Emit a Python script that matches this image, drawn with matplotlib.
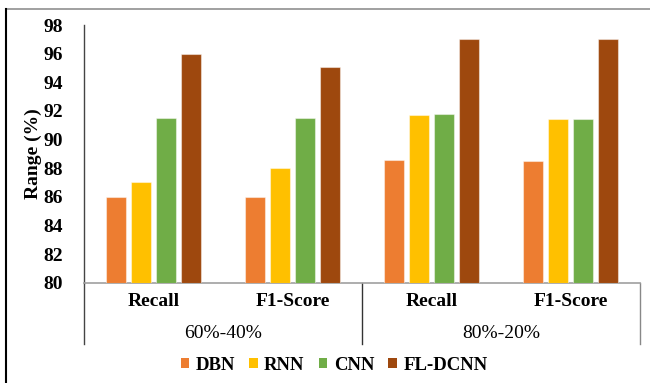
import matplotlib.pyplot as plt
import matplotlib.transforms as mtransforms
from matplotlib.patches import Patch
from matplotlib.lines import Line2D
import numpy as np

categories = ["Recall", "F1-Score", "Recall", "F1-Score"]
groups = ["60%-40%", "80%-20%"]
models = ["DBN", "RNN", "CNN", "FL-DCNN"]
dbn = [86.0, 86.0, 88.6, 88.5]
rnn = [87.0, 88.0, 91.7, 91.4]
cnn = [91.5, 91.5, 91.8, 91.4]
fl_dcnn = [96.0, 95.1, 97.0, 97.0]
colors = ["#ED7D31", "#FFC000", "#70AD47", "#9E480E"]

plt.rcParams["font.family"] = ["Liberation Serif", "DejaVu Serif"]

W, H = 650, 383
fig = plt.figure(figsize=(6.5, 3.83), dpi=100)
x0, x1 = 84, 640
y_top, y_bot = 25, 282.7
ax = fig.add_axes([x0 / W, 1 - y_bot / H, (x1 - x0) / W, (y_bot - y_top) / H])

x = np.arange(len(categories))
step = 0.18
width = 0.145
series = [dbn, rnn, cnn, fl_dcnn]
for k, (vals, c) in enumerate(zip(series, colors)):
    ax.bar(x + (k - 1.5) * step, np.array(vals) - 80, bottom=80, width=width,
           color=c, edgecolor=(1, 1, 1, 0.45), linewidth=0.8, zorder=3)

ax.set_xlim(-0.5, 3.5)
ax.set_ylim(80, 98)
ax.set_yticks(np.arange(80, 99, 2))
ax.tick_params(axis="y", length=0, pad=15, labelsize=14)
for lab in ax.get_yticklabels():
    lab.set_fontweight("bold")
ax.set_xticks([])
for s in ["top", "right"]:
    ax.spines[s].set_visible(False)
ax.spines["left"].set_color("#444444")
ax.spines["left"].set_linewidth(1.0)
ax.spines["bottom"].set_color("#a0a0a0")
ax.spines["bottom"].set_linewidth(1.2)
ax.set_ylabel("Range (%)", fontsize=14, fontweight="bold", labelpad=1)

ah = y_bot - y_top
trans = mtransforms.blended_transform_factory(ax.transData, ax.transAxes)
for i, cat in enumerate(categories):
    ax.text(i, -(302 - y_bot) / ah, cat, transform=trans, ha="center", va="center",
            fontsize=14, fontweight="bold")
for g, name in enumerate(groups):
    ax.text(2 * g + 0.5, -(333 - y_bot) / ah, name, transform=trans, ha="center",
            va="center", fontsize=14)
for xv, col in zip([-0.5, 1.5, 3.5], ["#444444", "#333333", "#888888"]):
    ax.add_line(Line2D([xv, xv], [0, -(344 - y_bot) / ah], transform=trans,
                       color=col, linewidth=1.0, clip_on=False))

handles = [Patch(facecolor=c, edgecolor="none", label=m) for m, c in zip(models, colors)]
leg = fig.legend(handles=handles, loc="center", bbox_to_anchor=(334 / W, 1 - 365 / H),
                 ncol=4, frameon=False, handlelength=0.45, handleheight=0.45,
                 handletextpad=0.35, columnspacing=0.75, borderpad=0.2,
                 prop={"weight": "bold", "size": 13.5})

# outer frame: top and left edges
fig.add_artist(Line2D([6 / W, 1], [1 - 9 / H, 1 - 9 / H], transform=fig.transFigure,
                      color="#909090", linewidth=1.2))
fig.add_artist(Line2D([6 / W, 6 / W], [0, 1 - 9 / H], transform=fig.transFigure,
                      color="black", linewidth=1.5))

fig.savefig("out.png", dpi=100)
